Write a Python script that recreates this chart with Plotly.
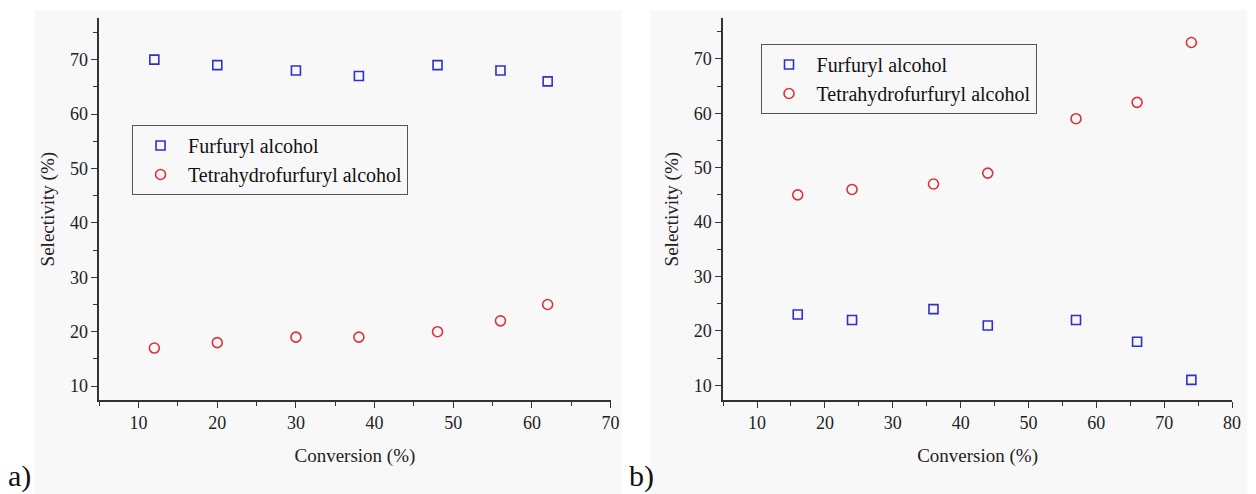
import plotly.graph_objects as go

# Panel a) — selectivity vs conversion
conv_a = [12, 20, 30, 38, 48, 56, 62]
fa_a = [70, 69, 68, 67, 69, 68, 66]
thfa_a = [17, 18, 19, 19, 20, 22, 25]

# Panel b)
conv_b = [16, 24, 36, 44, 57, 66, 74]
fa_b = [23, 22, 24, 21, 22, 18, 11]
thfa_b = [45, 46, 47, 49, 59, 62, 73]

series_names = ["Furfuryl alcohol", "Tetrahydrofurfuryl alcohol"]
panel_labels = ["a)", "b)"]
x_title = "Conversion (%)"
y_title = "Selectivity (%)"

BLUE = "#2f2fd0"
RED = "#e0303a"
FONT = "Liberation Serif, Times New Roman, serif"
W, H = 1256, 494

fig = go.Figure()

sq = dict(symbol="square-open", size=9, color=BLUE, line=dict(width=1.6, color=BLUE))
ci = dict(symbol="circle-open", size=10, color=RED, line=dict(width=1.6, color=RED))

fig.add_trace(go.Scatter(x=conv_a, y=fa_a, mode="markers", marker=sq,
                         name=series_names[0], xaxis="x", yaxis="y", legend="legend"))
fig.add_trace(go.Scatter(x=conv_a, y=thfa_a, mode="markers", marker=ci,
                         name=series_names[1], xaxis="x", yaxis="y", legend="legend"))
fig.add_trace(go.Scatter(x=conv_b, y=fa_b, mode="markers", marker=sq,
                         name=series_names[0], xaxis="x2", yaxis="y2", legend="legend2"))
fig.add_trace(go.Scatter(x=conv_b, y=thfa_b, mode="markers", marker=ci,
                         name=series_names[1], xaxis="x2", yaxis="y2", legend="legend2"))


def px_x(p):
    return p / W


def px_y(p):
    return (H - p) / H


common_axis = dict(
    showline=True, linecolor="#333333", linewidth=1.6, mirror=False,
    showgrid=False, zeroline=False,
    ticks="outside", ticklen=6, tickwidth=1.4, tickcolor="#333333",
    tickfont=dict(family=FONT, size=18, color="#222222"),
    minor=dict(ticks="outside", ticklen=4, tickwidth=1.2, tickcolor="#333333", dtick=5),
)

y_dom = [px_y(400), px_y(18.3)]
title_font = dict(family=FONT, size=19, color="#222222")

legend_style = dict(
    xanchor="left", yanchor="top",
    bgcolor="rgba(0,0,0,0)", bordercolor="#555555", borderwidth=1,
    font=dict(family=FONT, size=20, color="#111111"),
    tracegroupgap=0, itemwidth=45,
)

fig.update_layout(
    width=W, height=H,
    margin=dict(l=0, r=0, t=0, b=0),
    paper_bgcolor="white", plot_bgcolor="rgba(0,0,0,0)",
    font=dict(family=FONT, color="#222222"),
    xaxis=dict(common_axis, domain=[px_x(100), px_x(615)], range=[5, 70],
               dtick=10, tick0=0, anchor="y",
               title=dict(text=x_title, font=title_font, standoff=16)),
    yaxis=dict(common_axis, domain=y_dom, range=[7.45, 77.6], dtick=10, tick0=0,
               anchor="x",
               title=dict(text=y_title, font=title_font, standoff=10)),
    xaxis2=dict(common_axis, domain=[px_x(728.3), px_x(1241)], range=[5, 80],
                dtick=10, tick0=0, anchor="y2",
                title=dict(text=x_title, font=title_font, standoff=16)),
    yaxis2=dict(common_axis, domain=y_dom, range=[7.3, 77.45], dtick=10, tick0=0,
                anchor="x2",
                title=dict(text=y_title, font=title_font, standoff=10)),
    legend=dict(legend_style, x=px_x(133), y=px_y(125)),
    legend2=dict(legend_style, x=px_x(766), y=px_y(44)),
    showlegend=True,
)

# faint grey backing behind each panel
for x0, x1 in [(35, 626), (655, 1256)]:
    fig.add_shape(type="rect", xref="paper", yref="paper",
                  x0=px_x(x0), x1=px_x(x1), y0=0, y1=px_y(10),
                  fillcolor="#f8f8f8", line=dict(width=0), layer="below")

for label, xp in zip(panel_labels, [6, 632]):
    fig.add_annotation(text=label, xref="paper", yref="paper",
                       x=px_x(xp), y=px_y(476), xanchor="left", yanchor="middle",
                       showarrow=False, font=dict(family=FONT, size=30, color="#111111"))

fig.write_html("out.html")
